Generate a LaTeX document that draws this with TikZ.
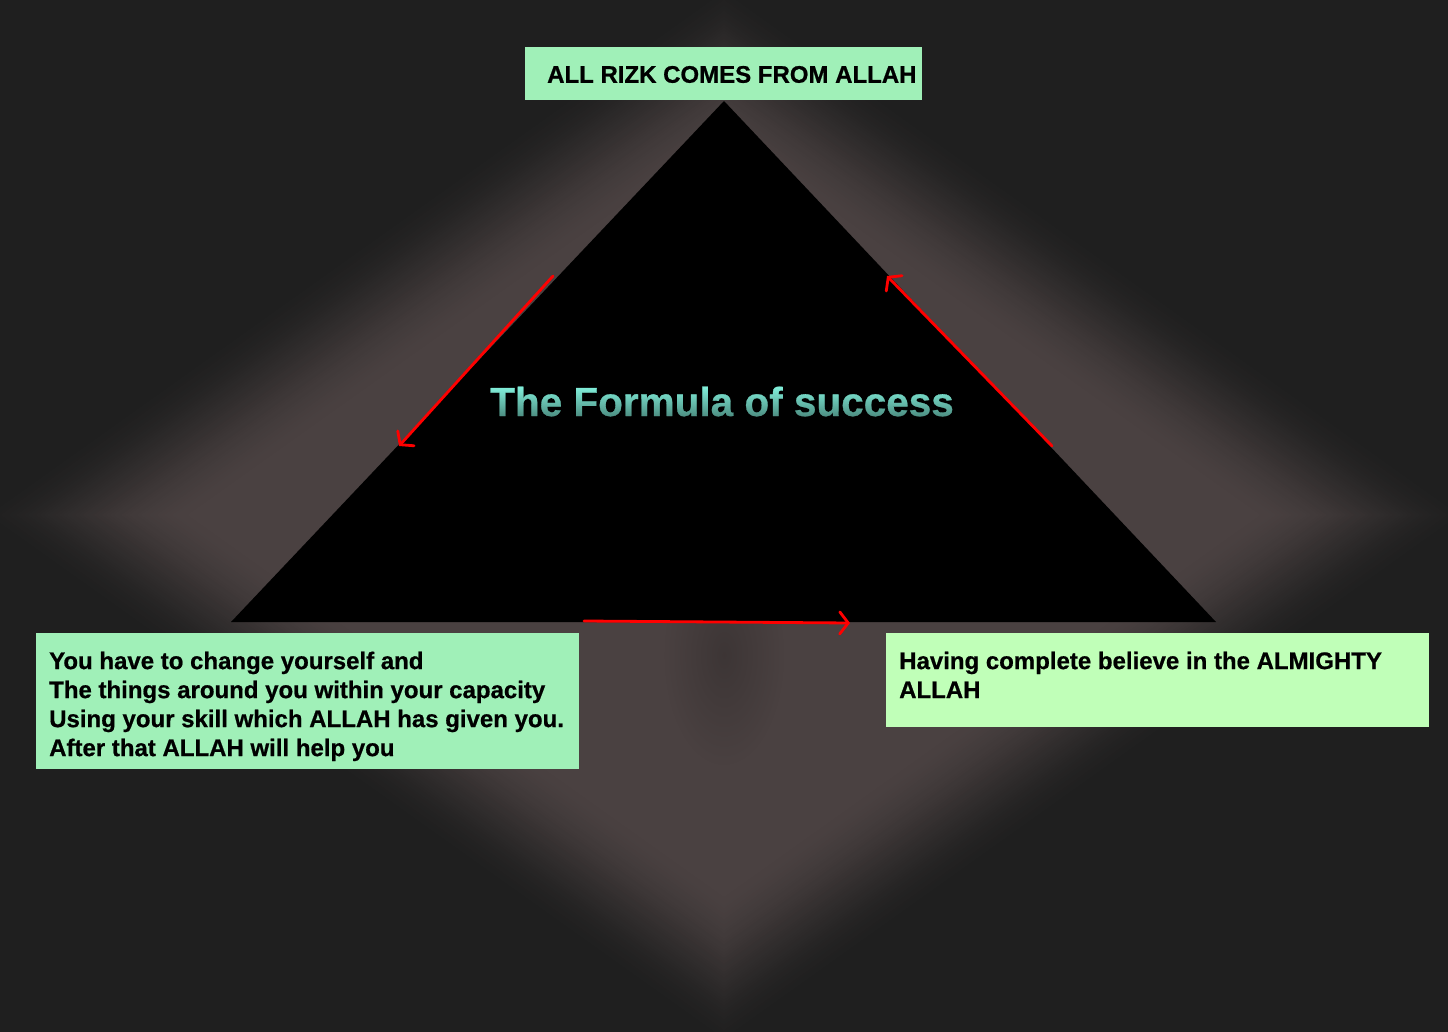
\documentclass[tikz,border=0pt]{standalone}
\usepackage{fontspec}
\setmainfont{Liberation Sans}[BoldFeatures={FakeBold=0.7}]
\usetikzlibrary{arrows.meta,fadings}
\definecolor{bgdark}{HTML}{1F1F1F}
\definecolor{glowbrown}{HTML}{4A4141}
\definecolor{glowshade}{HTML}{342E2E}
\definecolor{mint}{HTML}{A0F0B8}
\definecolor{palegreen}{HTML}{C0FFB8}
\definecolor{tealtop}{HTML}{80ECD8}
\definecolor{arrowred}{HTML}{FF0000}
\tikzfading[name=softspot, inner color=transparent!40, outer color=transparent!100]
\tikzfading[name=darkbelow, top color=transparent!100, bottom color=transparent!0]

\begin{document}
\begin{tikzpicture}[x=1pt,y=-1pt,
  notebox/.style={rectangle, draw=none, inner sep=0pt, anchor=north west},
  notetext/.style={inner sep=0pt, anchor=north west, align=left,
    font=\bfseries\fontsize{24}{29}\selectfont, text=black},
  flow/.style={draw=arrowred, line width=2.8pt, line cap=round,
    -{Straight Barb[length=8.5pt,width=22pt,line cap=round]}}]
\useasboundingbox (0,0) rectangle (1448,1032);
\fill[bgdark] (0,0) rectangle (1448,1032);

% soft diamond glow behind the pyramid
\foreach \i in {0,...,60}{
  \pgfmathsetmacro\t{\i/60}
  \pgfmathsetmacro\s{1.07-\i*0.0055}
  \pgfmathtruncatemacro\p{100*(3*\t*\t-2*\t*\t*\t)}
  \fill[glowbrown!\p!bgdark] (724,{515-505*\s}) -- ({724+709*\s},515)
    -- (724,{515+505*\s}) -- ({724-709*\s},515) -- cycle;
}
% slightly darker streak under the middle of the base
\fill[glowshade, path fading=softspot] (724,655) ellipse (60 and 110);

% the pyramid
\coordinate (apex) at (724,101);
\coordinate (baseL) at (231,622);
\coordinate (baseR) at (1216,622);
\fill[black] (apex) -- (baseR) -- (baseL) -- cycle;

% title with a top-to-bottom tint
\node[font=\bfseries\fontsize{40.5}{48}\selectfont, text=tealtop,
  anchor=base west, inner sep=0pt] (title) at (490,416) {The Formula of success};
\fill[black, fill opacity=0.42, path fading=darkbelow]
  (484,388) rectangle (962,418);

% note boxes
\node[notebox, fill=mint, minimum width=397pt, minimum height=53pt] (topbox) at (525,47) {};
\node[notetext] (toptext) at (547,65.8) {ALL RIZK COMES FROM ALLAH};

\node[notebox, fill=mint, minimum width=543pt, minimum height=136pt] (leftbox) at (36,633) {};
\node[notetext] (lefttext) at (49,651.5) {You have to change yourself and\\
The things around you within your capacity\\
Using your skill which ALLAH has given you.\\
After that ALLAH will help you};

\node[notebox, fill=palegreen, minimum width=543pt, minimum height=94pt] (rightbox) at (886,633) {};
\node[notetext] (righttext) at (899,651.5) {Having complete believe in the ALMIGHTY\\
ALLAH};

% red flow arrows along the sides
\coordinate (l1) at (553,276);
\coordinate (l2) at (399,446);
\coordinate (r1) at (1052,446);
\coordinate (r2) at (887,276);
\coordinate (b1) at (584,621);
\coordinate (b2) at (850,623);
\draw[flow] (l1) -- (l2);
\draw[flow] (r1) -- (r2);
\draw[flow] (b1) -- (b2);
\end{tikzpicture}
\end{document}
